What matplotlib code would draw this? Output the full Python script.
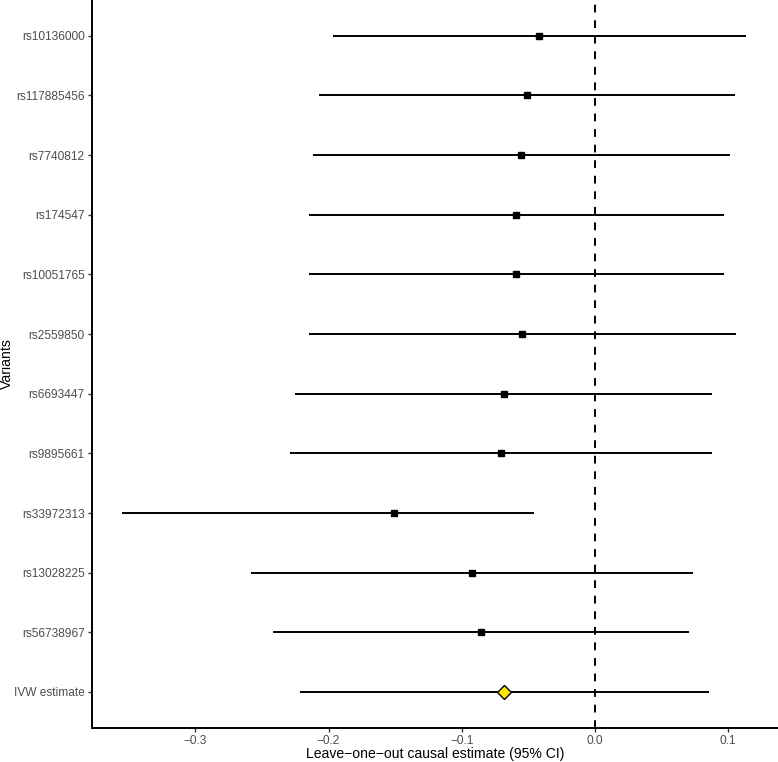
import numpy as np
import matplotlib
matplotlib.use("Agg")
import matplotlib.pyplot as plt

plt.rcParams['font.family'] = ['Liberation Sans', 'DejaVu Sans']

# bottom to top
variants = ["IVW estimate", "rs56738967", "rs13028225", "rs33972313", "rs9895661",
            "rs6693447", "rs2559850", "rs10051765", "rs174547", "rs7740812",
            "rs117885456", "rs10136000"]
estimate = [-0.0682, -0.0855, -0.0923, -0.151, -0.0704,
            -0.0682, -0.0547, -0.0592, -0.0592, -0.0554,
            -0.0509, -0.0416]
ci_low = [-0.2216, -0.242, -0.258, -0.355, -0.229,
          -0.225, -0.215, -0.215, -0.215, -0.212,
          -0.207, -0.197]
ci_high = [0.086, 0.0709, 0.0739, -0.0456, 0.0883,
           0.0883, 0.106, 0.0975, 0.0975, 0.102,
           0.1055, 0.114]
xticks = [-0.3, -0.2, -0.1, 0.0, 0.1]

fig = plt.figure(figsize=(7.78, 7.62), dpi=100)
ax = fig.add_axes([91.7/778, 1 - 728/762, 1 - 91.7/778, 728/762])

ypos = np.arange(1, len(variants) + 1)
ax.axvline(0, color='black', lw=1.4, ls=(0, (4, 4)), zorder=1)
ax.hlines(ypos, ci_low, ci_high, color='black', lw=1.4, zorder=2)
ax.plot(estimate[1:], ypos[1:], 's', color='black', ms=4.5, zorder=3)
ax.plot(estimate[0], ypos[0], 'D', mfc='#FFE600', mec='black', mew=1.0, ms=7.5, zorder=4)

ax.set_xlim(-0.378, 0.1378)
ax.set_ylim(0.396, 12.6)
ax.set_yticks(ypos)
ax.set_yticklabels(variants)
ax.set_xticks(xticks)
ax.set_xticklabels([f"{t:.1f}".replace("-", "\u2212") for t in xticks])

for s in ['top', 'right']:
    ax.spines[s].set_visible(False)
for s in ['left', 'bottom']:
    ax.spines[s].set_linewidth(1.4)
ax.tick_params(axis='both', length=3, width=1.0, color='#333333',
               labelcolor='#4D4D4D', labelsize=8.6, pad=2)

ax.set_xlabel("Leave\u2212one\u2212out causal estimate (95% CI)", fontsize=10.1)
ax.set_ylabel("Variants", fontsize=10.1)
ax.xaxis.set_label_coords(0.5, -30/728, transform=ax.transAxes)
ax.yaxis.set_label_coords(-84.5/686.3, 0.5, transform=ax.transAxes)
ax.xaxis.label.set_va('baseline')
ax.yaxis.label.set_va('center')

fig.savefig("out.png", dpi=100)
